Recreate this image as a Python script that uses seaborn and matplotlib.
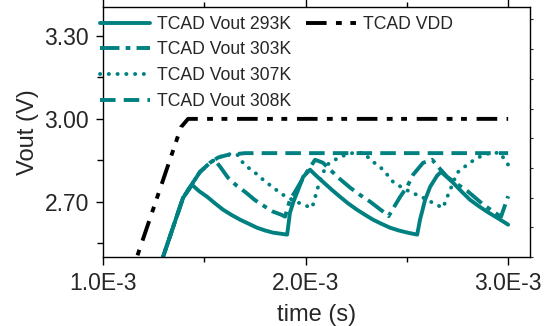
import numpy as np
import pandas as pd
import matplotlib
matplotlib.use('Agg')
import matplotlib.pyplot as plt
import seaborn as sns
from matplotlib.ticker import FuncFormatter, MultipleLocator

sns.set_style('ticks')
plt.rcParams['font.family'] = ['Liberation Sans', 'DejaVu Sans']

TEAL = '#008080'

# time values in ms, voltages in V
t_vdd = [1.10, 1.385, 1.42, 3.00]
v_vdd = [2.354, 2.97, 3.00, 3.00]

t_293 = [1.25, 1.395, 1.42, 1.44, 1.475, 1.514, 1.555, 1.593, 1.635, 1.677,
         1.720, 1.760, 1.800, 1.840, 1.909,
         1.923, 1.940, 1.958, 1.988, 2.022, 2.050, 2.086, 2.130, 2.170, 2.210,
         2.254, 2.295, 2.333, 2.375, 2.417, 2.460, 2.510, 2.551,
         2.565, 2.578, 2.590, 2.615, 2.649, 2.669, 2.700, 2.728, 2.770, 2.812,
         2.855, 2.896, 2.950, 3.000]
v_293 = [2.40, 2.714, 2.740, 2.761, 2.738, 2.718, 2.693, 2.671, 2.652, 2.635,
         2.620, 2.606, 2.596, 2.588, 2.581,
         2.660, 2.700, 2.733, 2.790, 2.816, 2.796, 2.772, 2.743, 2.718, 2.694,
         2.671, 2.652, 2.635, 2.620, 2.606, 2.596, 2.587, 2.581,
         2.635, 2.672, 2.707, 2.754, 2.794, 2.808, 2.788, 2.769, 2.737, 2.707,
         2.684, 2.664, 2.640, 2.617]

t_303 = [1.25, 1.395, 1.43, 1.479, 1.528, 1.55, 1.578, 1.617, 1.660, 1.706,
         1.750, 1.800, 1.840, 1.880, 1.899,
         1.923, 1.948, 1.998, 2.047, 2.086, 2.121, 2.170, 2.220, 2.270, 2.319,
         2.383, 2.41, 2.467, 2.501, 2.531, 2.580, 2.625, 2.660, 2.699, 2.750,
         2.797, 2.877, 2.935, 2.965, 3.000]
v_303 = [2.40, 2.714, 2.754, 2.808, 2.841, 2.852, 2.827, 2.787, 2.758, 2.733,
         2.706, 2.682, 2.664, 2.653, 2.646,
         2.707, 2.736, 2.798, 2.852, 2.841, 2.816, 2.782, 2.751, 2.724, 2.700,
         2.664, 2.648, 2.718, 2.754, 2.798, 2.841, 2.852, 2.822, 2.790, 2.763,
         2.740, 2.690, 2.660, 2.646, 2.720]

t_307 = [1.25, 1.395, 1.43, 1.479, 1.528, 1.568, 1.612, 1.662, 1.677, 1.711,
         1.751, 1.790, 1.840, 1.889, 1.940, 1.988, 2.032,
         2.045, 2.057, 2.080, 2.106, 2.170, 2.235, 2.284,
         2.333, 2.383, 2.432, 2.475, 2.516, 2.580, 2.649, 2.679,
         2.695, 2.714, 2.748, 2.798, 2.847, 2.911, 2.960, 3.000]
v_307 = [2.40, 2.714, 2.754, 2.808, 2.841, 2.860, 2.872, 2.872, 2.852, 2.827,
         2.805, 2.780, 2.751, 2.725, 2.705, 2.689, 2.678,
         2.710, 2.743, 2.795, 2.834, 2.863, 2.877, 2.877,
         2.845, 2.816, 2.772, 2.752, 2.736, 2.715, 2.688, 2.678,
         2.710, 2.743, 2.805, 2.834, 2.859, 2.877, 2.877, 2.834]

t_308 = [1.25, 1.395, 1.43, 1.479, 1.528, 1.568, 1.612, 1.701, 3.000]
v_308 = [2.40, 2.714, 2.754, 2.808, 2.841, 2.860, 2.869, 2.876, 2.876]

series = [
    ('TCAD Vout 293K', t_293, v_293, TEAL, '-'),
    ('TCAD Vout 303K', t_303, v_303, TEAL, (0, (5, 1.6, 1.2, 1.6))),
    ('TCAD Vout 307K', t_307, v_307, TEAL, (0, (0.05, 2.2))),
    ('TCAD Vout 308K', t_308, v_308, TEAL, (0, (4, 2.1))),
    ('TCAD VDD', t_vdd, v_vdd, 'black', (0, (5.3, 2.4, 1.5, 2.2, 1.5, 2.5))),
]

fig, ax = plt.subplots(figsize=(5.45, 3.26), dpi=100)
fig.subplots_adjust(left=0.189, right=0.9725, top=0.9785, bottom=0.2117)

for name, t, v, col, ls in series:
    df = pd.DataFrame({'time': np.array(t) * 1e-3, 'Vout': v})
    cap = 'round' if name.endswith('307K') else 'butt'
    sns.lineplot(data=df, x='time', y='Vout', ax=ax, color=col, lw=2.8,
                 linestyle=ls, dash_capstyle=cap, estimator=None, sort=False,
                 label=name)

ax.set_xlim(1.0e-3, 3.108e-3)
ax.set_ylim(2.50, 3.405)
ax.xaxis.set_major_locator(MultipleLocator(1e-3))
ax.xaxis.set_minor_locator(MultipleLocator(0.5e-3))
ax.yaxis.set_major_locator(MultipleLocator(0.3))
ax.yaxis.set_minor_locator(MultipleLocator(0.15))
ax.xaxis.set_major_formatter(FuncFormatter(lambda x, p: f'{x * 1e3:.1f}E-3'))
ax.yaxis.set_major_formatter(FuncFormatter(lambda y, p: f'{y:.2f}'))
ax.tick_params(which='both', direction='out', width=1.0, labelsize=16.5,
               top=True, right=False, color='black')
ax.tick_params(axis='y', which='major', length=5, pad=5)
ax.tick_params(axis='y', which='minor', length=4)
ax.tick_params(axis='x', which='major', length=6, pad=4.5)
ax.tick_params(axis='x', which='minor', length=3.6)
ax.set_xlabel('time (s)', fontsize=17, labelpad=7)
ax.set_ylabel('Vout (V)', fontsize=17, labelpad=4)
for s in ax.spines.values():
    s.set_visible(True)
    s.set_linewidth(1.0)
    s.set_color('black')

# small unlabeled ticks on the right frame
ax2 = ax.twinx()
ax2.set_ylim(0, 8.42)
ax2.set_yticks(range(9))
ax2.tick_params(axis='y', length=2.5, width=0.8, labelright=False)
for s in ax2.spines.values():
    s.set_visible(False)

# legend: 4 rows in the first column, VDD alone in the second
handles, labels = ax.get_legend_handles_labels()
blank = plt.Line2D([], [], color='none')
handles = handles[:4] + [handles[4], blank, blank, blank]
labels = labels[:4] + [labels[4], '', '', '']
ax.legend(handles, labels, ncol=2, loc='upper left', bbox_to_anchor=(-0.008, 0.965),
          frameon=False, fontsize=12.7, handlelength=2.85, handletextpad=0.4,
          columnspacing=0.85, labelspacing=0.49, borderaxespad=0, borderpad=0)

fig.savefig('out.png', dpi=100)
